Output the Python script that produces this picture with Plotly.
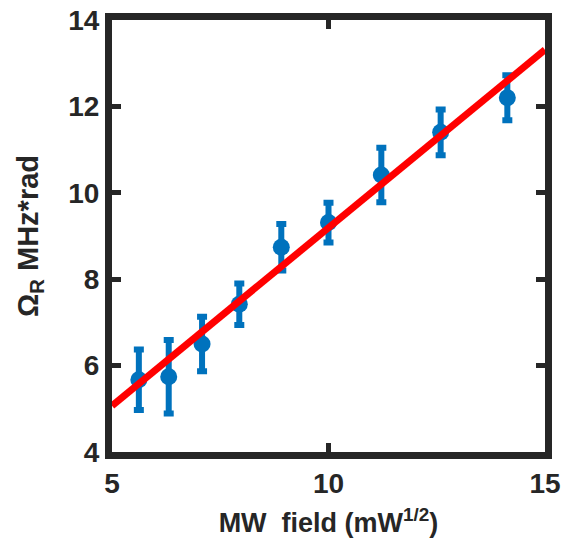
import plotly.graph_objects as go

# Data
mw_field = [5.62, 6.31, 7.08, 7.94, 8.91, 10.0, 11.22, 12.59, 14.13]
omega_r = [5.67, 5.74, 6.50, 7.42, 8.74, 9.31, 10.41, 11.40, 12.20]
omega_err = [0.70, 0.85, 0.63, 0.48, 0.54, 0.46, 0.63, 0.53, 0.52]

fit_x = [5.0, 15.0]
fit_y = [5.07, 13.31]

x_ticks = [5, 10, 15]
y_ticks = [4, 6, 8, 10, 12, 14]

BLUE = "#0072BD"
FRAME = "#262626"
FONT = "Liberation Sans, Arial, sans-serif"

fig = go.Figure()
fig.add_trace(go.Scatter(
    x=mw_field, y=omega_r, mode="markers",
    marker=dict(color=BLUE, size=17),
    error_y=dict(type="data", array=omega_err, visible=True,
                 color=BLUE, thickness=6, width=5),
    showlegend=False,
))
fig.add_trace(go.Scatter(
    x=fit_x, y=fit_y, mode="lines",
    line=dict(color="#FF0000", width=7),
    showlegend=False,
))

axis_common = dict(
    showgrid=False, zeroline=False, showline=True, linewidth=7,
    linecolor=FRAME, mirror="allticks", ticks="inside", ticklen=9,
    tickwidth=5, tickcolor=FRAME, automargin=False,
    ticklabeloverflow="allow",
    tickfont=dict(family=FONT, size=28, color=FRAME, weight="bold"),
)

fig.update_layout(
    width=564, height=549,
    margin=dict(l=112, r=19, t=20, b=97),
    paper_bgcolor="white", plot_bgcolor="white",
    xaxis=dict(range=[5, 15], tickvals=x_ticks, ticklabelstandoff=0,
               title=dict(text="<b>MW&nbsp;&nbsp;field (mW<sup>1/2</sup>)</b>",
                          font=dict(family=FONT, size=27, color=FRAME),
                          standoff=18),
               **axis_common),
    yaxis=dict(range=[4, 14], tickvals=y_ticks, ticklabelstandoff=0,
               title=dict(text="<b>Ω<sub>R</sub> MHz*rad</b>",
                          font=dict(family=FONT, size=29, color=FRAME),
                          standoff=24),
               **axis_common),
)

fig.write_html(
    "out.html",
    config={"displayModeBar": False},
    post_script="document.body.style.margin='0';document.body.style.overflow='hidden';",
)
